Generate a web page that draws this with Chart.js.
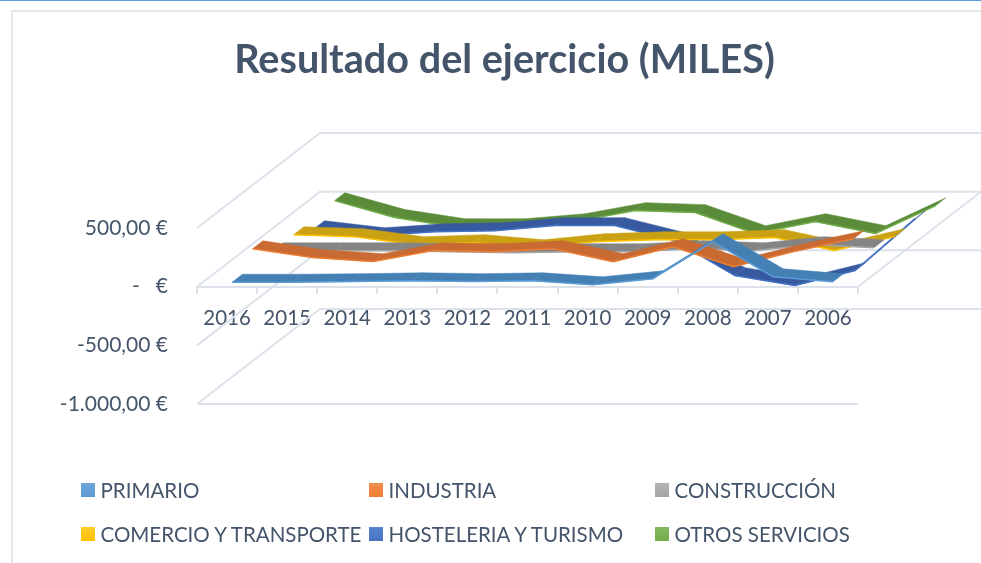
<!DOCTYPE html>
<html>
<head>
<meta charset="utf-8">
<title>Resultado del ejercicio (MILES)</title>
<script src="https://cdn.jsdelivr.net/npm/chart.js@4"></script>
<style>
    html, body { margin: 0; padding: 0; background: #fff; overflow: hidden; width: 981px; height: 563px; }
    #topline { position: absolute; left: 0; top: 0; width: 981px; height: 1px; background: #5b9bd5; }
    #frame { position: absolute; left: 11px; top: 10px; width: 980px; height: 560px; border: 2px solid #e3e7ee; }
    #chart { position: absolute; left: 0; top: 0; }
    .item { position: absolute; font: 20.5px Lato, sans-serif; color: #44546a; white-space: nowrap; line-height: 24px; }
    .item i { position: absolute; left: -20px; top: 5px; width: 14px; height: 14px; }
</style>
</head>
<body>
<div id="topline"></div>
<div id="frame"></div>
<canvas id="chart" width="981" height="563"></canvas>
<div id="legend"></div>
<script>
var years = ['2016', '2015', '2014', '2013', '2012', '2011', '2010', '2009', '2008', '2007', '2006'];

// valores (miles de euros)
var primario = [5, 5, 10, 17, 10, 17, -17, 34, 350, 51, 8];
var industria = [155, 79, 45, 139, 130, 155, 45, 172, 2, 130, 240];
var construccion = [3, 3, 3, -5, -14, -5, -5, 20, 3, 55, 29];
var comercio = [5, -12, -80, -63, -106, -55, -38, -38, -20, -131, -12];
var hosteleria = [-79, -139, -105, -96, -53, -53, -181, -479, -564, -437, 6];
var otros = [25, -119, -197, -197, -154, -60, -77, -256, -154, -256, -18];

var seriesNames = ['PRIMARIO', 'INDUSTRIA', 'CONSTRUCCIÓN', 'COMERCIO Y TRANSPORTE', 'HOSTELERIA Y TURISMO', 'OTROS SERVICIOS'];
var seriesValues = [primario, industria, construccion, comercio, hosteleria, otros];
var yTickLabels = { '500': '500,00 €', '0': '-   €', '-500': '-500,00 €', '-1000': '-1.000,00 €' };

var edgeColors = ['#5b9bd5', '#ed7d31', '#a5a5a5', '#ffc000', '#4472c4', '#70ad47'];
var faceColors = ['#4580b5', '#c96a32', '#848484', '#c9a112', '#36599f', '#5a8c3a'];
var legendTops = ['#6ea6da', '#f28f52', '#b5b5b5', '#ffcd33', '#5a83cc', '#83b962'];
var legendColumns = [81, 369, 655];
var legendRows = [478, 522];

var gridColor = '#dde2ea';
var textColor = '#44546a';
var depthX = 123, depthY = -95;

// offset of a dataset inside the 3D depth
function band(index, t) {
    var f = (index + t) / seriesNames.length;
    return { x: depthX * f, y: depthY * f };
}

var walls = {
    id: 'walls',
    afterLayout: function(chart) {
        // the y labels are clipped to the scale box, so open it to the left
        chart.scales.y.left = 0;
    },
    beforeDatasetsDraw: function(chart) {
        var ctx = chart.ctx, a = chart.chartArea, y = chart.scales.y;
        ctx.save();
        ctx.strokeStyle = gridColor;
        ctx.lineWidth = 2;
        y.ticks.forEach(function(t) {
            var py = y.getPixelForValue(t.value);
            ctx.beginPath();
            ctx.moveTo(a.left, py);
            ctx.lineTo(a.left + depthX, py + depthY);
            ctx.lineTo(a.right + depthX, py + depthY);
            ctx.stroke();
        });
        // front of the floor and right edge at zero
        ctx.beginPath();
        ctx.moveTo(a.left, a.bottom);
        ctx.lineTo(a.right, a.bottom);
        ctx.moveTo(a.right, y.getPixelForValue(0));
        ctx.lineTo(a.right + depthX, y.getPixelForValue(0) + depthY);
        ctx.stroke();
        ctx.restore();
    }
};

// draws every line as a flat ribbon going into the depth
var ribbons = {
    id: 'ribbons',
    beforeDatasetDraw: function(chart, args) {
        var ctx = chart.ctx, i = args.index, pts = args.meta.data;
        var front = band(i, 0.25), back = band(i, 0.75);
        ctx.save();
        ctx.fillStyle = faceColors[i];
        ctx.strokeStyle = faceColors[i];
        ctx.lineWidth = 0.5;
        for (var k = 0; k < pts.length - 1; k++) {
            ctx.beginPath();
            ctx.moveTo(pts[k].x + front.x, pts[k].y + front.y);
            ctx.lineTo(pts[k + 1].x + front.x, pts[k + 1].y + front.y);
            ctx.lineTo(pts[k + 1].x + back.x, pts[k + 1].y + back.y);
            ctx.lineTo(pts[k].x + back.x, pts[k].y + back.y);
            ctx.closePath();
            ctx.fill();
            ctx.stroke();
        }
        // the library draws the dataset line as the lit front edge
        ctx.translate(front.x, front.y);
    },
    afterDatasetDraw: function(chart) {
        chart.ctx.restore();
    }
};

new Chart(document.getElementById('chart'), {
    type: 'line',
    data: {
        labels: years,
        datasets: seriesNames.map(function(name, i) {
            return {
                label: name,
                data: seriesValues[i],
                borderColor: edgeColors[i],
                borderWidth: 1.5,
                pointRadius: 0,
                tension: 0,
                clip: false
            };
        })
    },
    options: {
        responsive: false,
        animation: false,
        // left padding keeps the title centred on the whole frame
        layout: { padding: { left: 151, right: 123, bottom: 159, top: 0 } },
        plugins: {
            legend: { display: false },
            tooltip: { enabled: false },
            title: {
                display: true,
                text: 'Resultado del ejercicio (MILES)',
                color: textColor,
                font: { family: 'Lato', size: 39.6, weight: 'bold' },
                padding: { top: 36, bottom: 144.5 }
            }
        },
        scales: {
            x: {
                position: { y: 0 },
                offset: true,
                grid: { offset: true, drawOnChartArea: false, color: gridColor, lineWidth: 2, tickLength: 6 },
                border: { color: gridColor, width: 2 },
                ticks: {
                    color: textColor,
                    font: { family: 'Lato', size: 20.5 },
                    padding: 13,
                    autoSkip: false,
                    maxRotation: 0
                }
            },
            y: {
                min: -1000,
                max: 500,
                afterFit: function(scale) { scale.width = 46; },
                grid: { display: false },
                border: { display: false },
                ticks: {
                    stepSize: 500,
                    color: textColor,
                    padding: 21,
                    font: { family: 'Lato', size: 21 },
                    callback: function(value) { return yTickLabels[value]; }
                }
            }
        }
    },
    plugins: [walls, ribbons]
});

// leyenda en dos filas y tres columnas
var legend = document.getElementById('legend');
seriesNames.forEach(function(name, i) {
    var div = document.createElement('div');
    div.className = 'item';
    div.style.left = (legendColumns[i % 3] + 19.5) + 'px';
    div.style.top = legendRows[Math.floor(i / 3)] + 'px';
    div.innerHTML = '<i style="background:linear-gradient(' + legendTops[i] + ',' + edgeColors[i] + ')"></i>' + name;
    legend.appendChild(div);
});
</script>
</body>
</html>
